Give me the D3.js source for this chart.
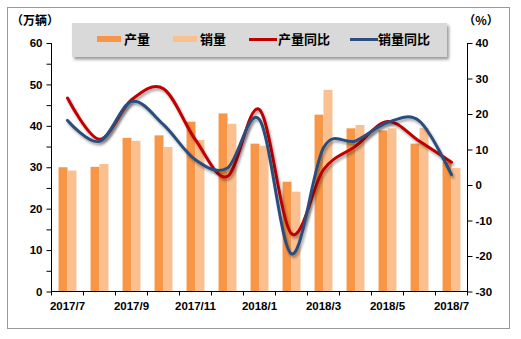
<!DOCTYPE html>
<html>
<head>
<meta charset="utf-8">
<script src="https://cdn.jsdelivr.net/npm/d3@7/dist/d3.min.js"></script>
<style>
  html, body { margin: 0; padding: 0; background: #fff; }
  svg { display: block; }
  text { font-family: Arial, "Liberation Sans", "Noto Sans CJK SC", sans-serif; font-weight: bold; fill: #000; }
  .cjk { font-family: "Noto Sans CJK SC", "Microsoft YaHei", sans-serif; font-weight: bold; }
</style>
</head>
<body>
<svg id="chart" width="521" height="339"></svg>
<script>
// Monthly output / sales (10k vehicles) and year-on-year growth (%)
const months = ["2017/7","2017/8","2017/9","2017/10","2017/11","2017/12","2018/1","2018/2","2018/3","2018/4","2018/5","2018/6","2018/7"];
const output = [30.0, 30.1, 37.1, 37.7, 41.0, 43.0, 35.7, 26.5, 42.7, 39.4, 38.9, 35.7, 31.3];
const sales  = [29.2, 30.8, 36.4, 34.9, 36.6, 40.5, 35.2, 24.1, 48.7, 40.2, 39.4, 39.5, 29.8];
const outputYoY = [24.5, 12.9, 24.0, 27.1, 12.7, 2.4, 21.2, -13.7, 4.3, 10.9, 17.9, 12.3, 6.4];
const salesYoY  = [18.2, 12.3, 23.5, 17.0, 7.1, 4.8, 18.4, -19.4, 10.5, 12.4, 17.6, 18.0, 2.9];
const leftTicks = [0, 10, 20, 30, 40, 50, 60];
const rightTicks = [-30, -20, -10, 0, 10, 20, 30, 40];
const xLabels = ["2017/7","2017/9","2017/11","2018/1","2018/3","2018/5","2018/7"];
const seriesNames = ["产量", "销量", "产量同比", "销量同比"];

const C_OUT = "#F79646", C_SAL = "#FAC08F", C_RED = "#C00000", C_BLUE = "#2C4D7E";

const svg = d3.select("#chart");
const plot = { left: 51.5, right: 467.5, top: 43, bottom: 291.5 };

const defs = svg.append("defs");
const shadow = defs.append("filter").attr("id", "lineShadow")
  .attr("x", "-10%").attr("y", "-10%").attr("width", "120%").attr("height", "130%");
shadow.append("feDropShadow").attr("dx", 1.5).attr("dy", 2.5).attr("stdDeviation", 1.3)
  .attr("flood-color", "#000").attr("flood-opacity", 0.35);
const boxShadow = defs.append("filter").attr("id", "boxShadow")
  .attr("x", "-5%").attr("y", "-20%").attr("width", "110%").attr("height", "150%");
boxShadow.append("feDropShadow").attr("dx", 2).attr("dy", 2.5).attr("stdDeviation", 1.5)
  .attr("flood-color", "#000").attr("flood-opacity", 0.4);

// outer frame
svg.append("rect").attr("x", 7.5).attr("y", 7.5).attr("width", 502).attr("height", 321)
  .attr("fill", "#fff").attr("stroke", "#9a9a9a").attr("stroke-width", 1);

const x = d3.scaleBand().domain(months).range([plot.left, plot.right]).padding(0);
const yL = d3.scaleLinear().domain([0, 60]).range([plot.bottom, plot.top]);
const yR = d3.scaleLinear().domain([-30, 40]).range([plot.bottom, plot.top]);
const barW = x.bandwidth() * 0.28;

// bars
const g = svg.append("g");
g.selectAll("rect.out").data(months).join("rect").attr("class", "out")
  .attr("x", d => x(d) + x.bandwidth() / 2 - barW)
  .attr("y", (d, i) => yL(output[i]))
  .attr("width", barW)
  .attr("height", (d, i) => yL(0) - yL(output[i]))
  .attr("fill", C_OUT);
g.selectAll("rect.sal").data(months).join("rect").attr("class", "sal")
  .attr("x", d => x(d) + x.bandwidth() / 2)
  .attr("y", (d, i) => yL(sales[i]))
  .attr("width", barW)
  .attr("height", (d, i) => yL(0) - yL(sales[i]))
  .attr("fill", C_SAL);

// smoothed growth lines
const line = d3.line()
  .x((d, i) => x(months[i]) + x.bandwidth() / 2)
  .y(d => yR(d))
  .curve(d3.curveCardinal.tension(0));
[[outputYoY, C_RED], [salesYoY, C_BLUE]].forEach(([vals, col]) => {
  svg.append("path").datum(vals).attr("d", line)
    .attr("fill", "none").attr("stroke", col).attr("stroke-width", 3)
    .attr("stroke-linecap", "round").attr("filter", "url(#lineShadow)");
});

// left axis
const axL = svg.append("g").attr("transform", `translate(${plot.left},0)`)
  .call(d3.axisLeft(yL).tickValues(d3.range(0, 61, 5)).tickSize(5).tickFormat(d => leftTicks.includes(d) ? String(d) : ""));
axL.select(".domain").remove();
axL.append("line").attr("y1", plot.top).attr("y2", plot.bottom + 0.5).attr("stroke", "#000");
axL.selectAll("text").attr("font-size", 11.5).attr("x", -9).attr("fill", "#000")
  .style("font-family", "Arial, 'Liberation Sans', sans-serif").style("font-weight", "bold");

// right axis
const axR = svg.append("g").attr("transform", `translate(${plot.right},0)`)
  .call(d3.axisRight(yR).tickValues(rightTicks).tickSize(5).tickFormat(d => String(d)));
axR.select(".domain").remove();
axR.append("line").attr("y1", plot.top).attr("y2", plot.bottom + 0.5).attr("stroke", "#000");
axR.selectAll("text").attr("font-size", 11.5).attr("x", 8).attr("fill", "#000")
  .style("font-family", "Arial, 'Liberation Sans', sans-serif").style("font-weight", "bold");

// bottom axis
const axB = svg.append("g").attr("transform", `translate(0,${plot.bottom})`);
axB.append("line").attr("x1", plot.left).attr("x2", plot.right).attr("stroke", "#000");
const bounds = months.map(m => x(m)).concat([plot.right]);
axB.selectAll("line.tk").data(bounds).join("line").attr("class", "tk")
  .attr("x1", d => d).attr("x2", d => d).attr("y1", 0).attr("y2", 4).attr("stroke", "#000");
axB.selectAll("text").data(xLabels).join("text")
  .attr("x", d => x(d) + x.bandwidth() / 2).attr("y", 18)
  .attr("text-anchor", "middle").attr("font-size", 11.5).text(d => d);

// unit labels
svg.append("text").attr("class", "cjk").attr("x", 35).attr("y", 25).attr("text-anchor", "middle")
  .attr("font-size", 12).text("（万辆）");
svg.append("text").attr("class", "cjk").attr("x", 481).attr("y", 25).attr("text-anchor", "middle")
  .attr("font-size", 12).text("（%）");

// legend
const lg = svg.append("g");
lg.append("rect").attr("x", 72).attr("y", 23).attr("width", 375).attr("height", 34)
  .attr("fill", "#d9d9d9").attr("filter", "url(#boxShadow)");
const items = [
  { name: seriesNames[0], color: C_OUT, type: "bar", x0: 97, tx: 124 },
  { name: seriesNames[1], color: C_SAL, type: "bar", x0: 173, tx: 200 },
  { name: seriesNames[2], color: C_RED, type: "line", x0: 249, tx: 278 },
  { name: seriesNames[3], color: C_BLUE, type: "line", x0: 350, tx: 378 }
];
items.forEach(it => {
  if (it.type === "bar") {
    lg.append("rect").attr("x", it.x0).attr("y", 36).attr("width", 24).attr("height", 6).attr("fill", it.color);
  } else {
    lg.append("line").attr("x1", it.x0).attr("x2", it.x0 + 28).attr("y1", 39.5).attr("y2", 39.5)
      .attr("stroke", it.color).attr("stroke-width", 3);
  }
  lg.append("text").attr("class", "cjk").attr("x", it.tx).attr("y", 44).attr("font-size", 13).text(it.name);
});
</script>
</body>
</html>
